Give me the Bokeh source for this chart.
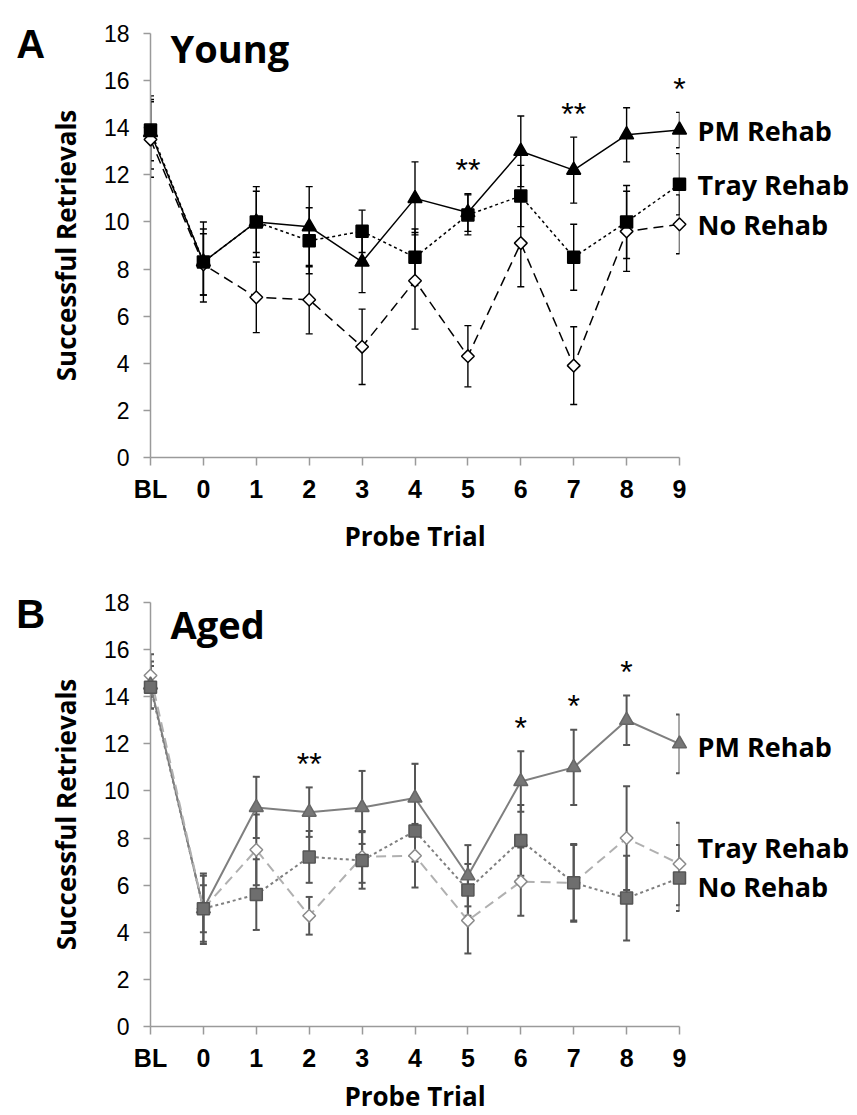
import numpy as np
from bokeh.plotting import figure
from bokeh.layouts import column
from bokeh.models import Range1d, FixedTicker, ColumnDataSource, Whisker, TeeHead
from bokeh.embed import file_html
from bokeh.resources import INLINE
from bokeh.core.properties import value

# ---------------- data ----------------
TRIALS = ["BL", "0", "1", "2", "3", "4", "5", "6", "7", "8", "9"]
SERIES = ["PM Rehab", "Tray Rehab", "No Rehab"]
Y_TICKS = [0, 2, 4, 6, 8, 10, 12, 14, 16, 18]

young_pm = [13.8, 8.3, 10.0, 9.8, 8.3, 11.0, 10.4, 13.0, 12.2, 13.7, 13.9]
young_pm_err = [1.55, 1.7, 1.3, 1.7, 1.3, 1.55, 0.8, 1.5, 1.4, 1.15, 0.75]
young_tray = [13.9, 8.3, 10.0, 9.2, 9.6, 8.5, 10.3, 11.1, 8.5, 10.0, 11.6]
young_tray_err = [1.3, 1.4, 1.5, 1.4, 0.9, 1.2, 0.85, 1.3, 1.4, 1.55, 1.3]
young_no = [13.5, 8.2, 6.8, 6.7, 4.7, 7.5, 4.3, 9.1, 3.9, 9.6, 9.9]
young_no_err = [1.6, 1.3, 1.5, 1.45, 1.6, 2.05, 1.3, 1.85, 1.65, 1.7, 1.25]

aged_pm = [14.5, 5.0, 9.3, 9.1, 9.3, 9.7, 6.4, 10.4, 11.0, 13.0, 12.0]
aged_pm_err = [1.0, 1.5, 1.3, 1.05, 1.55, 1.45, 1.3, 1.28, 1.6, 1.05, 1.25]
aged_tray = [14.4, 5.0, 5.6, 7.2, 7.05, 8.3, 5.8, 7.9, 6.1, 5.45, 6.3]
aged_tray_err = [0.9, 1.0, 1.5, 1.1, 1.2, 1.3, 1.1, 1.5, 1.65, 1.8, 1.4]
aged_no = [14.9, 5.0, 7.5, 4.7, 7.2, 7.25, 4.5, 6.15, 6.1, 8.0, 6.9]
aged_no_err = [0.9, 1.4, 1.5, 0.8, 1.1, 1.35, 1.4, 1.45, 1.6, 2.2, 1.75]

young_sig_trials = ["5", "7", "9"]
young_sig_marks = ["**", "**", "*"]
aged_sig_trials = ["2", "6", "7", "8"]
aged_sig_marks = ["**", "*", "*", "*"]

# ---------------- layout constants ----------------
XS = [i - 1 for i in range(len(TRIALS))]
LABEL_FONT = "Open Sans"
TICK_FONT = "Liberation Sans"
STAR_GAP = 1.0


def add_text(p, x, y, txt, font, size, style="normal", align="left",
             baseline="alphabetic", x_offset=0, y_offset=0):
    p.text([x], [y], text=[txt], text_font=value(font), text_font_size=size,
           text_font_style=style, text_align=align, text_baseline=baseline,
           text_color="black", x_offset=x_offset, y_offset=y_offset, level="overlay")


def make_panel(letter, title, means, errs, sig_trials, sig_marks, label_y,
               height, top, bottom, right, styles, title_y, letter_y, xtitle_as_text):
    p = figure(width=857, height=height,
               x_range=Range1d(-1, 9), y_range=Range1d(0, 18),
               output_backend="svg", toolbar_location=None,
               min_border_left=150, min_border_right=right,
               min_border_top=top, min_border_bottom=bottom)
    p.outline_line_color = None
    p.grid.visible = False
    p.background_fill_color = "white"
    p.border_fill_color = "white"

    xa = p.xaxis[0]
    xa.ticker = FixedTicker(ticks=XS)
    xa.major_label_overrides = {x: t for x, t in zip(XS, TRIALS)}
    ya = p.yaxis[0]
    ya.ticker = FixedTicker(ticks=Y_TICKS)
    ya.axis_label = "Successful Retrievals"
    for ax in (xa, ya):
        ax.axis_line_color = "#9a9a9a"
        ax.axis_line_width = 1.5
        ax.major_tick_line_color = "#9a9a9a"
        ax.major_tick_line_width = 1.5
        ax.major_tick_in = 0
        ax.minor_tick_in = 0
        ax.minor_tick_out = 0
        ax.major_label_text_font = TICK_FONT
        ax.major_label_text_color = "black"
        ax.axis_label_text_font = LABEL_FONT
        ax.axis_label_text_font_style = "bold"
        ax.axis_label_text_font_size = "26px"
        ax.axis_label_text_color = "black"
    xa.major_tick_out = 8
    xa.major_label_text_font_style = "bold"
    xa.major_label_text_font_size = "25px"
    xa.major_label_standoff = 9
    xa.axis_label_standoff = 12
    ya.major_tick_out = 7
    ya.major_label_text_font_size = "23px"
    ya.major_label_standoff = 14
    ya.axis_label_standoff = 17

    if xtitle_as_text:
        add_text(p, 4, 0, "Probe Trial", LABEL_FONT, "26px", style="bold",
                 align="center", baseline="middle", y_offset=69)
    else:
        xa.axis_label = "Probe Trial"

    # error bars
    for m, e, st in zip(means, errs, styles):
        src = ColumnDataSource(dict(x=XS,
                                    upper=[a + b for a, b in zip(m, e)],
                                    lower=[a - b for a, b in zip(m, e)]))
        w = Whisker(source=src, base="x", upper="upper", lower="lower",
                    line_color=st["err"], line_width=st["err_w"],
                    upper_head=TeeHead(size=7, line_color=st["err"], line_width=st["err_w"]),
                    lower_head=TeeHead(size=7, line_color=st["err"], line_width=st["err_w"]))
        p.add_layout(w)

    # lines
    for m, st in zip(means, styles):
        p.line(XS, m, line_color=st["line"], line_width=st["lw"],
               line_dash=st["dash"], level="overlay")

    # markers: No, PM, Tray order
    for idx in (2, 0, 1):
        st = styles[idx]
        p.scatter(XS, means[idx], marker=st["marker"], size=st["size"],
                  angle=st["angle"], fill_color=st["fill"],
                  line_color=st["mline"], line_width=1.5, level="overlay")

    # significance stars
    tops = [max(m[i] + e[i] for m, e in zip(means, errs)) for i in range(len(XS))]
    sx = [XS[TRIALS.index(t)] for t in sig_trials]
    sy = [tops[TRIALS.index(t)] + STAR_GAP for t in sig_trials]
    p.text(sx, sy, text=sig_marks, text_align="center", text_baseline="middle",
           text_font=value(TICK_FONT), text_font_size="32px", text_color="black",
           level="overlay")

    # series labels
    for name, ly in zip(SERIES, label_y):
        add_text(p, 9, ly, name, LABEL_FONT, "27px", style="bold",
                 baseline="middle", x_offset=18)

    # panel letter and title
    add_text(p, -3.54, letter_y, letter, TICK_FONT, "40px", style="bold")
    add_text(p, -0.62, title_y, title, LABEL_FONT, "38px", style="bold")
    return p


black_styles = [
    dict(line="black", lw=1.5, dash="solid", marker="triangle", size=14, angle=0,
         fill="black", mline="black", err="black", err_w=1.4),
    dict(line="black", lw=1.5, dash="3 3", marker="square", size=12, angle=0,
         fill="black", mline="black", err="black", err_w=1.4),
    dict(line="black", lw=1.5, dash="10 6", marker="square", size=9, angle=np.pi / 4,
         fill="white", mline="black", err="black", err_w=1.4),
]
gray_styles = [
    dict(line="#7f7f7f", lw=2, dash="solid", marker="triangle", size=14, angle=0,
         fill="#777777", mline="#666666", err="#555555", err_w=2),
    dict(line="#7f7f7f", lw=2, dash="3 3", marker="square", size=12, angle=0,
         fill="#6e6e6e", mline="#555555", err="#555555", err_w=2),
    dict(line="#b0b0b0", lw=2, dash="10 6", marker="square", size=9, angle=np.pi / 4,
         fill="white", mline="#8a8a8a", err="#555555", err_w=2),
]

pa = make_panel("A", "Young",
                [young_pm, young_tray, young_no],
                [young_pm_err, young_tray_err, young_no_err],
                young_sig_trials, young_sig_marks,
                [young_pm[-1], young_tray[-1], young_no[-1]],
                height=557, top=33, bottom=100, right=175,
                styles=black_styles, title_y=17.4, letter_y=17.57,
                xtitle_as_text=False)

pb = make_panel("B", "Aged",
                [aged_pm, aged_tray, aged_no],
                [aged_pm_err, aged_tray_err, aged_no_err],
                aged_sig_trials, aged_sig_marks,
                [11.9, 7.6, 5.95],
                height=558, top=45, bottom=89, right=178,
                styles=gray_styles, title_y=17.1, letter_y=17.53,
                xtitle_as_text=True)

layout = column(pa, pb, spacing=0)
open("out.html", "w").write(file_html(layout, INLINE))
